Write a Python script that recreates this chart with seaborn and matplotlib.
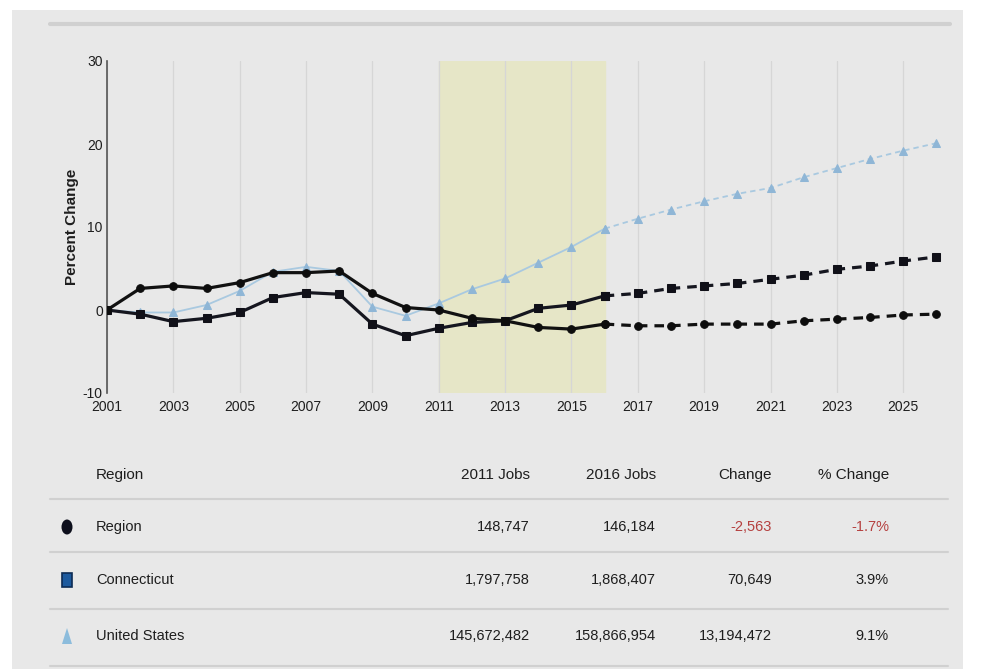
import matplotlib
matplotlib.use("Agg")
import matplotlib.pyplot as plt
from matplotlib.patches import Rectangle, Ellipse, Polygon
from matplotlib.lines import Line2D
import seaborn as sns
import pandas as pd

# ---------------- data ----------------
years = list(range(2001, 2027))
region = [0.0, 2.6, 2.9, 2.6, 3.3, 4.5, 4.5, 4.7, 2.0, 0.3, 0.0,
          -1.0, -1.3, -2.1, -2.3, -1.7, -1.9, -1.9, -1.7, -1.7, -1.7,
          -1.3, -1.1, -0.9, -0.6, -0.5]
connecticut = [0.0, -0.5, -1.4, -1.0, -0.3, 1.5, 2.1, 1.9, -1.7, -3.1, -2.2,
               -1.5, -1.3, 0.2, 0.6, 1.7, 2.0, 2.6, 2.9, 3.2, 3.7,
               4.2, 4.9, 5.3, 5.9, 6.4]
united_states = [0.0, -0.3, -0.3, 0.6, 2.3, 4.6, 5.2, 4.7, 0.4, -0.7, 0.8,
                 2.5, 3.8, 5.7, 7.6, 9.8, 11.0, 12.1, 13.1, 14.0, 14.7,
                 16.0, 17.1, 18.2, 19.2, 20.1]
last_actual_year = 2016
shade_start, shade_end = 2011, 2016
x_ticks = list(range(2001, 2027, 2))
y_ticks = [-10, 0, 10, 20, 30]

table_header = ["Region", "2011 Jobs", "2016 Jobs", "Change", "% Change"]
table_names = ["Region", "Connecticut", "United States"]
jobs_2011 = ["148,747", "1,797,758", "145,672,482"]
jobs_2016 = ["146,184", "1,868,407", "158,866,954"]
change = ["-2,563", "70,649", "13,194,472"]
pct_change = ["-1.7%", "3.9%", "9.1%"]

# ---------------- style ----------------
sns.set_theme(style="white")
FONT = ["Liberation Sans", "DejaVu Sans"]
plt.rcParams["font.family"] = FONT

W, H = 986, 669
fig = plt.figure(figsize=(W / 100, H / 100), dpi=100)
fig.patch.set_facecolor("white")
BG = "#e8e8e8"
fig.patches.append(Rectangle((12 / W, 0), (963 - 12) / W, 1 - 10 / H,
                             transform=fig.transFigure, facecolor=BG,
                             edgecolor="none", zorder=-10))
# top separator
fig.lines.append(Line2D([50 / W, 950 / W], [1 - 24 / H, 1 - 24 / H],
                        transform=fig.transFigure, color="#d0d0d0", lw=3))


def fx(px):
    return px / W


def fy(py):
    return 1 - py / H


ax = fig.add_axes([fx(107), fy(393), fx(953) - fx(107), (393 - 61) / H])
ax.set_facecolor("none")

ax.axvspan(shade_start, shade_end, color="#e6e6c7", zorder=0)
for xt in x_ticks:
    ax.axvline(xt, color="#d6d6d6", lw=0.9, zorder=0.5)

df = pd.DataFrame({"year": years, "Region": region,
                   "Connecticut": connecticut, "United States": united_states})

specs = [
    ("United States", "#a9c9e0", "#8fb6d6", "^", 1.3, 6),
    ("Connecticut", "#15161f", "#101018", "s", 2.3, 5.5),
    ("Region", "#111111", "#0d0d0d", "o", 2.3, 5.5),
]
for name, lc, mc, mk, lw, ms in specs:
    actual = df[df["year"] <= last_actual_year]
    proj = df[df["year"] >= last_actual_year]
    sns.lineplot(data=actual, x="year", y=name, ax=ax, color=lc, lw=lw,
                 marker=mk, markersize=ms, markerfacecolor=mc,
                 markeredgecolor=mc, zorder=3)
    sns.lineplot(data=proj, x="year", y=name, ax=ax, color=lc, lw=lw,
                 linestyle=(0, (3, 2.2)), marker=mk, markersize=ms,
                 markerfacecolor=mc, markeredgecolor=mc, zorder=3)

ax.set_xlim(2001, 2026.5)
ax.set_ylim(-10, 30)
ax.set_xticks(x_ticks)
ax.set_xticklabels([str(t) for t in x_ticks], fontsize=10, color="#1e1e1e")
ax.set_yticks(y_ticks)
ax.set_yticklabels([str(t) for t in y_ticks], fontsize=10, color="#1e1e1e")
ax.tick_params(axis="x", length=0, pad=5)
ax.tick_params(axis="y", length=0, pad=3)
ax.set_xlabel("")
ax.set_ylabel("Percent Change", fontsize=11, fontweight="bold",
              color="#1e1e1e", labelpad=3)
for s in ["top", "right", "bottom"]:
    ax.spines[s].set_visible(False)
ax.spines["left"].set_color("#555555")
ax.spines["left"].set_linewidth(1.2)

# ---------------- table ----------------
TXT = "#1e1e1e"
RED = "#b5403f"
col_right = [530, 656, 772, 889]
name_x = 96
header_y = 475
row_y = [527, 580, 636]
sep_y = [499, 552, 609, 666]

fig.text(fx(name_x), fy(header_y), table_header[0], ha="left", va="center",
         fontsize=11, color=TXT)
for cx, h in zip(col_right, table_header[1:]):
    fig.text(fx(cx), fy(header_y), h, ha="right", va="center",
             fontsize=11, color=TXT)
for yy in sep_y:
    fig.lines.append(Line2D([fx(50), fx(948)], [fy(yy), fy(yy)],
                            transform=fig.transFigure, color="#d0d0d0", lw=1.5))

for i, nm in enumerate(table_names):
    y = row_y[i]
    fig.text(fx(name_x), fy(y), nm, ha="left", va="center", fontsize=10.5, color=TXT)
    vals = [jobs_2011[i], jobs_2016[i], change[i], pct_change[i]]
    for j, (cx, v) in enumerate(zip(col_right, vals)):
        col = RED if (j >= 2 and v.startswith("-")) else TXT
        fig.text(fx(cx), fy(y), v, ha="right", va="center", fontsize=10.5, color=col)

# icons
ix = 67
fig.patches.append(Ellipse((fx(ix), fy(row_y[0])), 11 / W, 15 / H,
                           transform=fig.transFigure, facecolor="#0d0f1c",
                           edgecolor="none"))
fig.patches.append(Rectangle((fx(ix - 5), fy(row_y[1] + 7)), 10 / W, 14 / H,
                             transform=fig.transFigure, facecolor="#1d5a9e",
                             edgecolor="#0d2c55", lw=1.2))
fig.patches.append(Polygon([(fx(ix - 5), fy(row_y[2] + 8)),
                            (fx(ix + 5), fy(row_y[2] + 8)),
                            (fx(ix), fy(row_y[2] - 8))], closed=True,
                           transform=fig.transFigure, facecolor="#8cbcdc",
                           edgecolor="none"))

fig.savefig("out.png", dpi=100, facecolor=fig.get_facecolor())
